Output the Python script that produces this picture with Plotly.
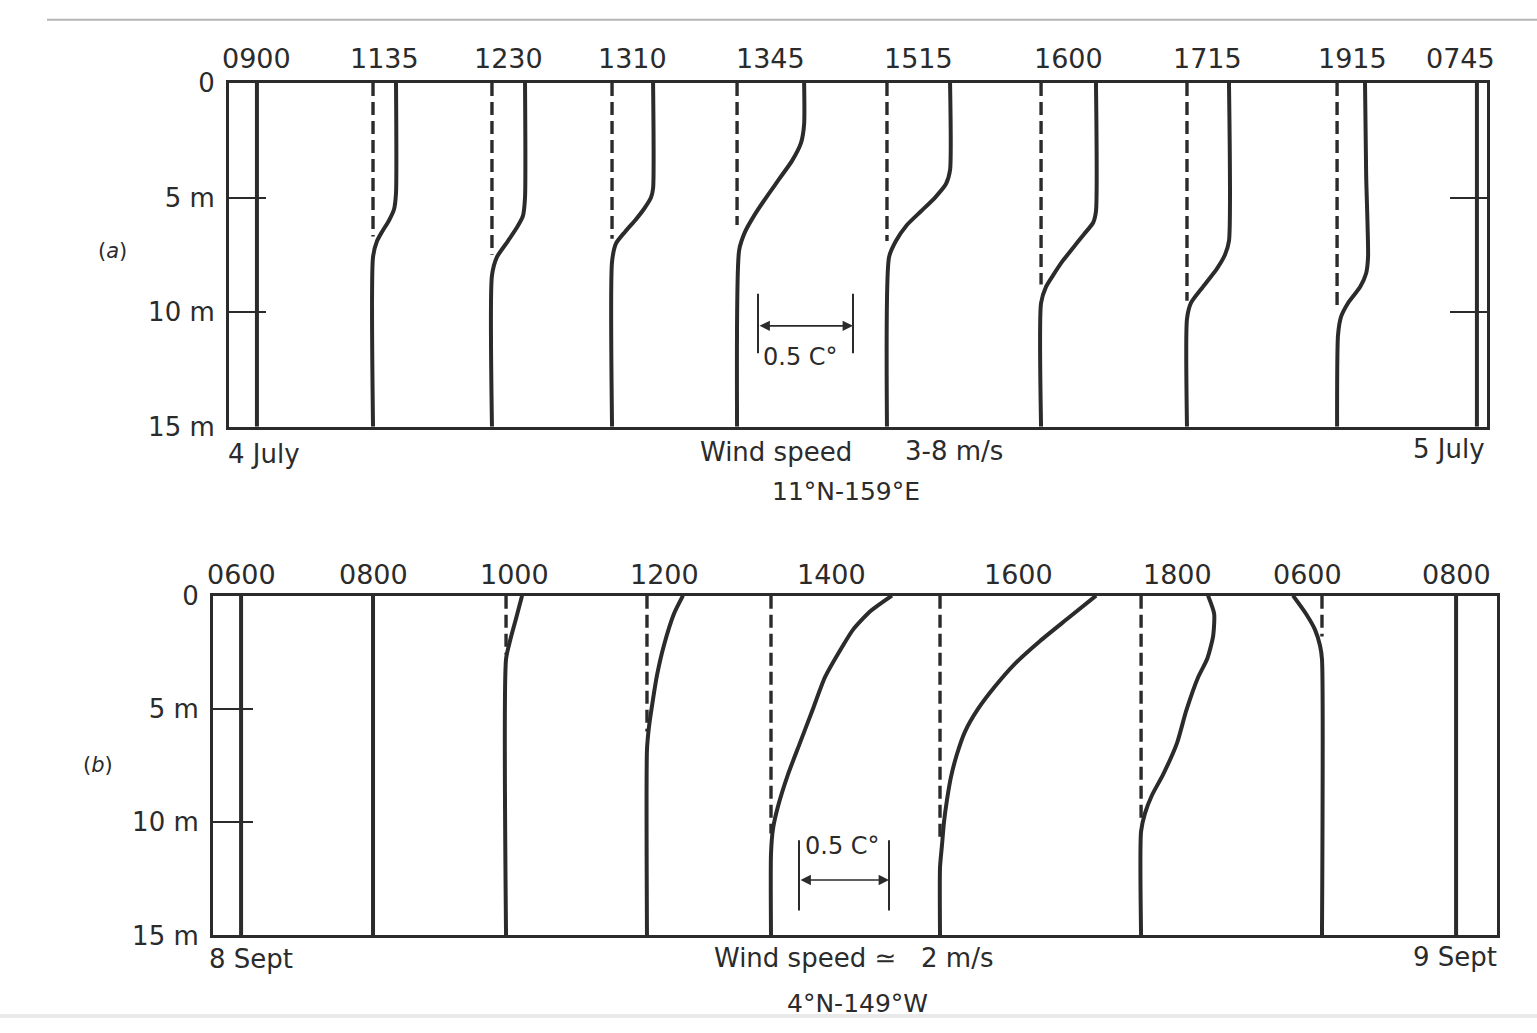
import plotly.graph_objects as go

W, H = 1537, 1033

# ---------------- data: panel (a) 4-5 July, 11°N-159°E, wind 3-8 m/s ----------------
A_TIMES = ["0900", "1135", "1230", "1310", "1345", "1515", "1600", "1715", "1915", "0745"]
A_OFFSET_C = [0.147, 0.758, 1.384, 2.016, 2.674, 3.463, 4.274, 5.042, 5.832, 6.568]
A_DEPTH = [
    [0, 15],
    [0, 4.8, 5.5, 6.0, 6.5, 6.9, 7.6, 15],
    [0, 5.0, 5.8, 6.3, 6.9, 7.6, 8.4, 15],
    [0, 4.6, 5.0, 5.5, 6.0, 6.5, 7.0, 7.8, 15],
    [0, 1.8, 2.6, 3.4, 4.2, 5.0, 5.8, 6.5, 7.3, 15],
    [0, 3.8, 4.4, 5.0, 5.6, 6.2, 6.9, 7.6, 15],
    [0, 5.6, 6.1, 6.6, 7.2, 7.8, 8.4, 8.9, 9.6, 15],
    [0, 6.9, 7.5, 8.1, 8.9, 9.6, 10.3, 15],
    [0, 4.0, 7.6, 8.3, 8.9, 9.6, 10.2, 11.0, 15],
    [0, 15],
]
A_DT = [
    [0, 0],
    [0.121, 0.121, 0.111, 0.084, 0.047, 0.021, 0, 0],
    [0.174, 0.174, 0.163, 0.132, 0.084, 0.026, 0, 0],
    [0.216, 0.216, 0.205, 0.168, 0.121, 0.068, 0.021, 0, 0],
    [0.353, 0.353, 0.337, 0.289, 0.221, 0.153, 0.089, 0.042, 0.011, 0],
    [0.332, 0.332, 0.311, 0.253, 0.179, 0.105, 0.047, 0.011, 0],
    [0.289, 0.289, 0.274, 0.226, 0.168, 0.111, 0.063, 0.026, 0, 0],
    [0.221, 0.221, 0.200, 0.158, 0.084, 0.021, 0, 0],
    [0.147, 0.153, 0.163, 0.153, 0.121, 0.058, 0.021, 0.005, 0],
    [0, 0],
]
A_MIXED_DEPTH = [None, 6.7, 7.5, 6.8, 6.2, 6.9, 8.8, 9.5, 9.8, None]

# ---------------- data: panel (b) 8-9 Sept, 4°N-149°W, wind ~2 m/s ----------------
B_TIMES = ["0600", "0800", "1000", "1200", "1400", "1600", "1800", "0600", "0800"]
B_OFFSET_C = [0.156, 0.889, 1.628, 2.411, 3.100, 4.039, 5.156, 6.161, 6.906]
B_DEPTH = [
    [0, 15],
    [0, 15],
    [0, 1.0, 2.0, 2.8, 15],
    [0, 0.8, 2.2, 3.5, 4.6, 5.8, 6.8, 15],
    [0, 0.7, 1.5, 2.2, 3.6, 5.0, 6.5, 7.9, 9.3, 10.3, 11.4, 15],
    [0, 1, 2, 3, 4, 5, 6, 7, 8, 9, 10, 11, 12, 15],
    [0, 0.8, 1.8, 2.8, 3.6, 5.1, 6.5, 7.9, 8.8, 9.6, 10.4, 15],
    [0, 0.8, 1.5, 2.2, 2.8, 15],
    [0, 15],
]
B_DT = [
    [0, 0],
    [0, 0],
    [0.089, 0.056, 0.022, 0, 0],
    [0.200, 0.150, 0.094, 0.056, 0.033, 0.011, 0, 0],
    [0.672, 0.550, 0.456, 0.400, 0.300, 0.233, 0.161, 0.094, 0.039, 0.011, 0, 0],
    [0.867, 0.711, 0.556, 0.417, 0.306, 0.211, 0.139, 0.094, 0.061, 0.039, 0.022, 0.011, 0, 0],
    [0.372, 0.406, 0.400, 0.367, 0.317, 0.250, 0.200, 0.122, 0.061, 0.022, 0, 0],
    [-0.161, -0.089, -0.039, -0.011, 0, 0],
    [0, 0],
]
B_MIXED_DEPTH = [None, None, 2.6, 6.0, 10.5, 10.8, 9.8, 1.8, None]

DEPTH_TICKS = [0, 5, 10, 15]
DEPTH_TICK_TEXT = ["0", "5 m", "10 m", "15 m"]
SCALE_C = 0.5

# ---------------- styling ----------------
INK = "#2b2b2b"
FONT = "DejaVu Sans"
A_BOX = dict(left=229, right=1487, top=70, bottom=424, pxc=190)
B_BOX = dict(left=213, right=1497, top=598, bottom=948, pxc=180)


def px(x):
    return x / W


def py(y):
    return 1 - y / H


fig = go.Figure()


def add_panel(offsets, depths, dts, mixed, xa, ya):
    for off, d, t, m in zip(offsets, depths, dts, mixed):
        fig.add_trace(go.Scatter(
            x=[off + v for v in t], y=d, mode="lines", xaxis=xa, yaxis=ya,
            line=dict(color=INK, width=4, shape="spline", smoothing=0.6),
            hoverinfo="skip", showlegend=False))
        if m is not None:
            fig.add_trace(go.Scatter(
                x=[off, off], y=[0, m], mode="lines", xaxis=xa, yaxis=ya,
                line=dict(color=INK, width=3.4, dash="13px,6px"),
                hoverinfo="skip", showlegend=False))


add_panel(A_OFFSET_C, A_DEPTH, A_DT, A_MIXED_DEPTH, "x", "y")
add_panel(B_OFFSET_C, B_DEPTH, B_DT, B_MIXED_DEPTH, "x2", "y2")


def xaxis_cfg(box):
    return dict(domain=[px(box["left"]), px(box["right"])],
                range=[0, (box["right"] - box["left"]) / box["pxc"]],
                showticklabels=False, showgrid=False, zeroline=False,
                showline=True, mirror=True, linecolor=INK, linewidth=3, ticks="")


def yaxis_cfg(box, mirror, ticklen):
    return dict(domain=[py(box["bottom"]), py(box["top"])], range=[15, 0],
                tickvals=DEPTH_TICKS, ticktext=DEPTH_TICK_TEXT,
                ticks="inside", ticklen=ticklen, tickwidth=1.6, tickcolor=INK,
                ticklabelstandoff=6,
                tickfont=dict(family=FONT, size=26, color=INK),
                showgrid=False, zeroline=False, showline=True, mirror=mirror,
                linecolor=INK, linewidth=3)


fig.update_layout(
    width=W, height=H, margin=dict(l=0, r=0, t=0, b=0),
    paper_bgcolor="white", plot_bgcolor="white", showlegend=False,
    xaxis=dict(anchor="y", **xaxis_cfg(A_BOX)),
    yaxis=dict(anchor="x", **yaxis_cfg(A_BOX, "ticks", 37)),
    xaxis2=dict(anchor="y2", **xaxis_cfg(B_BOX)),
    yaxis2=dict(anchor="x2", **yaxis_cfg(B_BOX, True, 40)),
)

ann = []


def label_times(times, offsets, dts, xref, ylab, last_shift):
    n = len(times)
    for i, (tm, off, t) in enumerate(zip(times, offsets, dts)):
        center = off + (max(t) + min(t)) / 2
        ann.append(dict(x=center, y=py(ylab), xref=xref, yref="paper", text=tm,
                        showarrow=False, xanchor="center", yanchor="middle",
                        xshift=last_shift if i == n - 1 else 0,
                        font=dict(family=FONT, size=27, color=INK)))


label_times(A_TIMES, A_OFFSET_C, A_DT, "x", 45, -16)
label_times(B_TIMES, B_OFFSET_C, B_DT, "x2", 576, 0)


def text(x, y, s, anchor="left", size=26, **kw):
    ann.append(dict(x=px(x), y=py(y), xref="paper", yref="paper", text=s,
                    showarrow=False, xanchor=anchor, yanchor="middle",
                    font=dict(family=FONT, size=size, color=INK), **kw))


# panel (a) texts
text(112, 243, "(<i>a</i>)", "center", 21)
text(226, 452, "4 July")
text(698, 450, "Wind speed")
text(903, 449, "3-8 m/s")
text(846, 491, "11°N-159°E", "center", 25)
text(1487, 447, "5 July", "right")
# panel (b) texts
text(98, 772, "(<i>b</i>)", "center", 21)
text(207, 972, "8 Sept")
text(712, 971, "Wind speed ≃   2 m/s")
text(858, 1018, "4°N-149°W", "center", 25)
text(1499, 970, "9 Sept", "right")

# scale bars (0.5 C°)
shapes = []


def scale_bar(box, xref, yref, x0px, y0, y1, yarrow, ytext_px, xtext_px):
    x0 = (x0px - box["left"]) / box["pxc"]
    x1 = x0 + SCALE_C
    for xx in (x0, x1):
        shapes.append(dict(type="line", xref=xref, yref=yref, x0=xx, x1=xx, y0=y0, y1=y1,
                           line=dict(color=INK, width=2)))
    ann.append(dict(x=x1, y=yarrow, ax=x0, ay=yarrow, xref=xref, yref=yref,
                    axref=xref, ayref=yref, text="", showarrow=True,
                    arrowside="end+start", arrowhead=2, arrowsize=1.3,
                    arrowwidth=1.6, arrowcolor=INK, standoff=0, startstandoff=0))
    text(xtext_px, ytext_px, "0.5 C°", "left", 24)


scale_bar(A_BOX, "x", "y", 758, 9.2, 11.8, 10.6, 352, 761)
scale_bar(B_BOX, "x2", "y2", 799, 10.8, 13.9, 12.55, 856, 803)

# scan frame: band at the bottom, thin rule at the top
shapes.append(dict(type="rect", xref="paper", yref="paper", x0=0, x1=1,
                   y0=0, y1=py(1029), fillcolor="#e9e9e9", line=dict(width=0), layer="below"))
shapes.append(dict(type="line", xref="paper", yref="paper", x0=px(47), x1=1,
                   y0=py(5), y1=py(5), line=dict(color="#b5b5b5", width=2), layer="below"))

fig.update_layout(annotations=ann, shapes=shapes)
fig.write_html("out.html", config={"displayModeBar": False},
               post_script="document.body.style.margin='0px';document.body.style.padding='0px';"
                           "document.body.style.overflow='hidden';")
